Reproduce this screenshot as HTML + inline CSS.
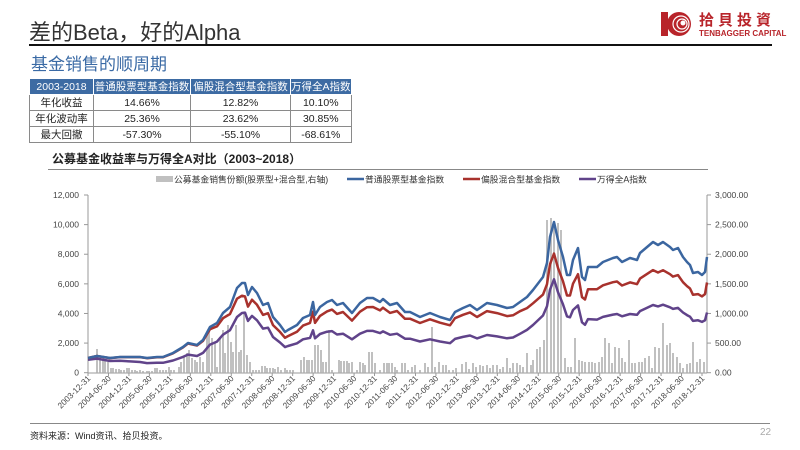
<!DOCTYPE html>
<html><head><meta charset="utf-8">
<style>
body{margin:0;background:#fff;}
#wrap{position:relative;width:800px;height:450px;overflow:hidden;background:#fff;font-family:"Liberation Sans","Noto Sans CJK SC",sans-serif;}
.abs{position:absolute;white-space:nowrap;}
table{border-collapse:collapse;font-size:10.5px;color:#222;}
td{border:1px solid #8a8a8a;text-align:center;height:14px;padding:0;}
tr.h td{background:#3d6ba3;color:#fff;border-color:#fff;}
</style></head><body>
<div id="wrap">
<div class="abs" style="left:29px;top:15px;font-size:22px;color:#333;">差的Beta，好的Alpha</div>
<div class="abs" style="left:29px;top:44px;width:743px;height:2px;background:#111;"></div>
<div class="abs" style="left:31px;top:50px;font-size:17px;color:#3a6aa5;">基金销售的顺周期</div>
<div class="abs" style="left:29px;top:78px;">
<table>
<tr class="h"><td style="width:63px">2003-2018</td><td style="width:96px">普通股票型基金指数</td><td style="width:99px">偏股混合型基金指数</td><td style="width:58px">万得全A指数</td></tr>
<tr><td>年化收益</td><td>14.66%</td><td>12.82%</td><td>10.10%</td></tr>
<tr><td>年化波动率</td><td>25.36%</td><td>23.62%</td><td>30.85%</td></tr>
<tr><td>最大回撤</td><td>-57.30%</td><td>-55.10%</td><td>-68.61%</td></tr>
</table></div>
<div class="abs" style="left:52px;top:150px;font-size:12px;font-weight:bold;color:#222;">公募基金收益率与万得全A对比（2003~2018）</div>
<div class="abs" style="left:48px;top:169px;width:660px;height:1px;background:#888;"></div>
<svg class="abs" style="left:660px;top:9px" width="32" height="30" viewBox="0 0 32 30">
<rect x="1" y="3" width="7" height="24" fill="#b8242a"/>
<circle cx="19" cy="15" r="12" fill="#b8242a"/>
<circle cx="21" cy="15" r="8" fill="none" stroke="#fff" stroke-width="1.2"/>
<circle cx="22" cy="15" r="5" fill="none" stroke="#fff" stroke-width="1.2"/>
<circle cx="23" cy="14" r="2.5" fill="#fff"/>
</svg>
<div class="abs" style="left:699px;top:9px;font-size:15px;font-weight:bold;color:#b8242a;letter-spacing:4px;">拾貝投資</div>
<div class="abs" style="left:699px;top:29px;font-size:8px;font-weight:bold;color:#b8242a;">TENBAGGER CAPITAL</div>
<svg id="ch" class="abs" style="left:0;top:0" width="800" height="450"></svg>
<div class="abs" style="left:30px;top:423px;width:740px;height:1px;background:#888;"></div>
<div class="abs" style="left:30px;top:429px;font-size:9px;color:#222;">资料来源：Wind资讯、拾贝投资。</div>
<div class="abs" style="left:760px;top:427px;font-size:10px;color:#aaa;">22</div>
</div>
<script>
var s=[];
var X0=88,X1=707,Y0=372.7,YT=195;
function vy(v){return Y0-v/12000*(Y0-YT);}
s.push('<line x1="88" y1="195" x2="88" y2="373" stroke="#999" stroke-width="1"/>');
s.push('<line x1="707" y1="195" x2="707" y2="373" stroke="#999" stroke-width="1"/>');
s.push('<line x1="88" y1="373" x2="707" y2="373" stroke="#999" stroke-width="1"/>');
var ll=['0','2,000','4,000','6,000','8,000','10,000','12,000'];
var rl=['0.00','500.00','1,000.00','1,500.00','2,000.00','2,500.00','3,000.00'];
for(var i=0;i<7;i++){var y=vy(i*2000);
s.push('<line x1="84" y1="'+y+'" x2="88" y2="'+y+'" stroke="#999"/>');
s.push('<line x1="707" y1="'+y+'" x2="711" y2="'+y+'" stroke="#999"/>');
s.push('<text x="79" y="'+(y+3)+'" font-size="8.5" fill="#444" text-anchor="end">'+ll[i]+'</text>');
s.push('<text x="715" y="'+(y+3)+'" font-size="8.5" fill="#444">'+rl[i]+'</text>');}
var bars=[[97,349],[100,358],[103,359],[105,360],[108,362],[111,368],[113,368],[116,369],[119,369],[121,370],[124,370],[127,368],[129,368],[132,370],[135,370],[137,371],[140,370],[143,371],[147,371],[149,371],[152,371],[155,368],[157,368],[160,370],[163,370],[166,370],[169,367],[171,370],[174,370],[179,367],[181,362],[184,357],[187,353],[189,350],[192,358],[195,360],[197,362],[200,357],[203,362],[207,333],[209,332],[212,338],[215,342],[217,367],[220,337],[223,330],[225,353],[228,325],[231,342],[233,352],[236,325],[239,352],[241,350],[244,312],[247,355],[250,362],[253,370],[256,370],[259,370],[262,366],[265,366],[267,368],[270,368],[273,368],[275,369],[278,367],[281,370],[285,368],[287,370],[290,370],[293,370],[301,360],[304,357],[307,360],[309,360],[312,360],[315,345],[318,345],[321,350],[323,362],[326,362],[329,330],[332,370],[339,360],[341,361],[344,361],[347,361],[349,363],[352,362],[357,370],[360,362],[363,363],[365,365],[369,352],[372,352],[375,363],[380,370],[384,363],[387,363],[389,363],[392,363],[395,367],[397,370],
[402,363],[405,363],[408,370],[412,367],[415,365],[420,370],[425,363],[428,367],[432,327],[435,367],[439,362],[443,365],[446,365],[449,370],[453,370],[456,368],[462,364],[466,362],[469,369],[473,363],[476,367],[480,365],[483,366],[487,365],[490,368],[493,365],[497,365],[500,369],[503,367],[507,358],[510,368],[513,363],[517,363],[520,365],[523,367],[527,353],[531,365],[533,360],[537,349],[540,347],[544,340],[547,220],[551,218],[554,222],[558,223],[561,230],[565,358],[568,367],[571,367],[575,338],[579,360],[582,361],[585,362],[589,362],[592,362],[595,363],[599,362],[602,357],[605,338],[609,343],[612,363],[615,347],[619,348],[622,358],[625,362],[629,340],[632,363],[635,363],[639,362],[642,362],[645,358],[649,356],[652,368],[655,347],[659,348],[663,323],[667,345],[670,343],[673,353],[677,357],[680,363],[683,368],[687,364],[690,363],[693,342],[697,362],[700,359],[704,362]];
bars.forEach(function(b){s.push('<rect x="'+(b[0]-1)+'" y="'+b[1]+'" width="2" height="'+(372.7-b[1])+'" fill="#c0c0c0"/>');});
var B=[[88,358],[97,356],[110,358],[120,357],[130,357],[140,357],[147,358],[157,357],[163,357],[173,353],[183,347],[188,343],[197,345],[203,340],[210,327],[217,323],[223,313],[230,307],[237,288],[242,283],[245,283],[248,295],[252,287],[257,293],[263,305],[268,303],[273,317],[280,325],[285,332],[288,330],[297,325],[303,318],[310,315],[313,302],[315,315],[320,307],[327,302],[332,300],[337,305],[343,303],[352,313],[360,303],[367,298],[373,298],[380,302],[383,299],[390,305],[397,303],[405,312],[410,312],[420,317],[430,313],[440,317],[450,320],[455,312],[463,308],[470,305],[477,310],[487,303],[497,305],[507,308],[513,307],[520,302],[527,297],[533,290],[543,277],[547,263],[550,237],[554,222],[558,240],[563,257],[567,275],[570,275],[573,260],[578,248],[582,277],[585,280],[588,267],[597,267],[603,262],[613,258],[617,257],[622,262],[630,258],[637,260],[640,253],[653,242],[658,245],[663,242],[670,247],[673,250],[678,248],[683,257],[687,262],[690,265],[693,273],[698,272],[702,275],[705,272],[707,257]];
function interp(t,x){for(var i=0;i<t.length-1;i++){if(x<=t[i+1][0]){var f=(x-t[i][0])/(t[i+1][0]-t[i][0]);return t[i][1]+f*(t[i+1][1]-t[i][1]);}}return t[t.length-1][1];}
var RR=[[88,1],[200,0.98],[245,0.85],[300,0.86],[340,0.87],[450,0.9],[520,0.87],[554,0.79],[600,0.79],[707,0.78]];
var PR=[[88,0.88],[150,0.64],[200,0.6],[245,0.67],[313,0.6],[340,0.56],[450,0.56],[510,0.53],[554,0.62],[575,0.55],[590,0.5],[660,0.52],[707,0.52]];
function path(f){var d='';B.forEach(function(p,i){var v=(Y0-p[1])/(Y0-YT)*12000;var y=vy(f(p[0],v));d+=(i?'L':'M')+p[0]+','+y.toFixed(1);});return d;}
var pd=path(function(x,v){return v*interp(PR,x);});
var rd=path(function(x,v){return v*interp(RR,x);});
var bd=path(function(x,v){return v;});
s.push('<path d="'+pd+'" fill="none" stroke="#60438a" stroke-width="2.5" stroke-linejoin="round"/>');
s.push('<path d="'+rd+'" fill="none" stroke="#a8322d" stroke-width="2.5" stroke-linejoin="round"/>');
s.push('<path d="'+bd+'" fill="none" stroke="#3b66a0" stroke-width="2.5" stroke-linejoin="round"/>');
var lab=[];for(var yr=2003;yr<=2018;yr++){if(yr>2003)lab.push(yr+'-06-30');lab.push(yr+'-12-31');}
var step=(702-88)/30;
lab.forEach(function(t,i){var x=88+i*step;
s.push('<line x1="'+x+'" y1="373" x2="'+x+'" y2="376" stroke="#999"/>');
s.push('<text transform="translate('+(x+3)+',379) rotate(-45)" font-size="8.3" fill="#444" text-anchor="end">'+t+'</text>');});
s.push('<rect x="156" y="176" width="17" height="6" fill="#c0c0c0"/>');
s.push('<text x="174" y="182.5" font-size="8.8" fill="#333">公募基金销售份额(股票型+混合型,右轴)</text>');
[[347,'#3b66a0','普通股票型基金指数'],[463,'#a8322d','偏股混合型基金指数'],[579,'#60438a','万得全A指数']].forEach(function(l){
s.push('<line x1="'+l[0]+'" y1="179" x2="'+(l[0]+17)+'" y2="179" stroke="'+l[1]+'" stroke-width="2.5"/>');
s.push('<text x="'+(l[0]+18)+'" y="182.5" font-size="8.8" fill="#333">'+l[2]+'</text>');});
document.getElementById('ch').innerHTML=s.join('');
</script>
</body></html>
